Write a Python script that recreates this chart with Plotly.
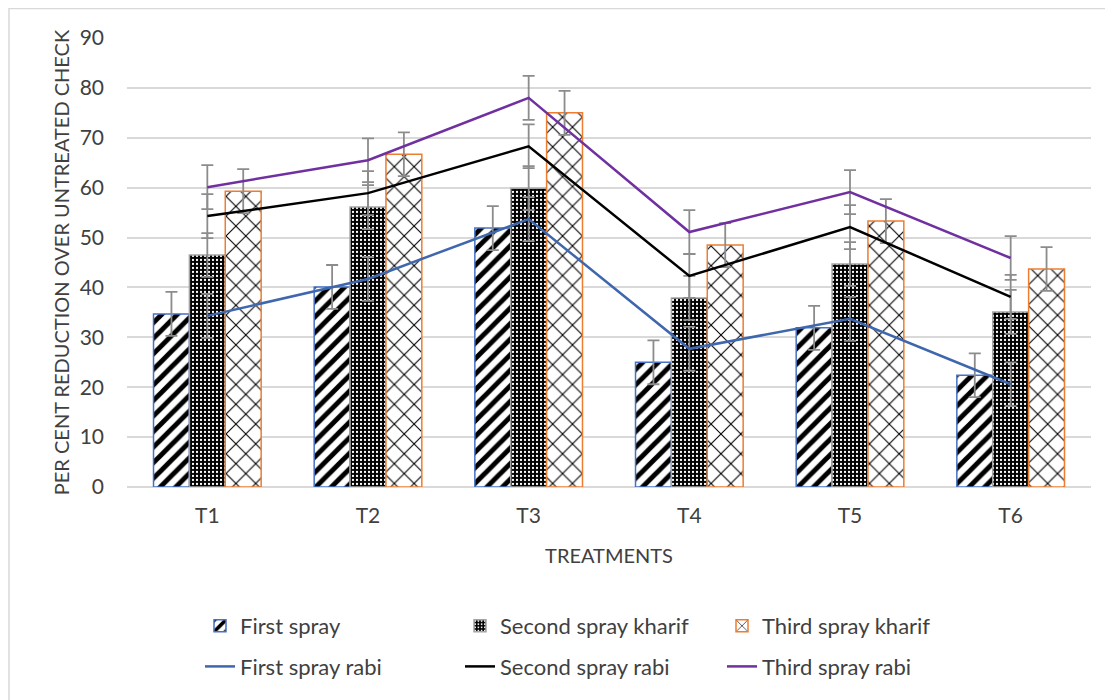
import plotly.graph_objects as go

treatments = ["T1", "T2", "T3", "T4", "T5", "T6"]
first_spray = [34.7, 40.1, 51.9, 25.0, 31.9, 22.4]
second_spray_kharif = [46.5, 56.1, 59.9, 37.9, 44.7, 35.1]
third_spray_kharif = [59.3, 66.7, 75.0, 48.5, 53.3, 43.7]
first_spray_rabi = [34.3, 41.7, 53.7, 27.7, 33.7, 20.6]
second_spray_rabi = [54.3, 58.9, 68.3, 42.3, 52.1, 38.1]
third_spray_rabi = [60.1, 65.5, 78.0, 51.1, 59.1, 45.9]
err_first = [4.4, 4.4, 4.4, 4.4, 4.4, 4.4]
err_second = [4.4, 4.4, 4.4, 4.4, 4.4, 4.4]
err_third = [4.4, 4.4, 4.4, 4.4, 4.4, 4.4]
err_first_rabi = [4.4, 4.4, 4.4, 4.4, 4.4, 4.4]
err_second_rabi = [4.4, 4.4, 4.4, 4.4, 4.4, 4.4]
err_third_rabi = [4.4, 4.4, 4.4, 4.4, 4.4, 4.4]

FONT = "Lato"
GREY = "#8C8C8C"
TXT = "#404040"

L, R, T, B = 119, 30, 30, 221
PW = 1113 - L - R
PH = 700 - T - B

def eb(vals):
    return dict(type="data", array=vals, visible=True, color=GREY, thickness=1.8, width=6)

fig = go.Figure()
fig.add_trace(go.Bar(
    x=treatments, y=first_spray, name="First spray", error_y=eb(err_first),
    marker=dict(color="white", line=dict(color="#4472C4", width=1.5),
                pattern=dict(shape="/", fgcolor="black", bgcolor="white", fgopacity=1,
                             size=11, solidity=0.45)),
    legend="legend", legendgroup="a"))
fig.add_trace(go.Bar(
    x=treatments, y=second_spray_kharif, name="Second spray kharif", error_y=eb(err_second),
    marker=dict(color="black", line=dict(color="#A5A5A5", width=1.5),
                pattern=dict(shape=".", fgcolor="white", bgcolor="black", fgopacity=1,
                             size=4, solidity=0.25)),
    legend="legend2", legendgroup="b"))
fig.add_trace(go.Bar(
    x=treatments, y=third_spray_kharif, name="Third spray kharif", error_y=eb(err_third),
    marker=dict(color="white", line=dict(color="#ED7D31", width=1.5),
                pattern=dict(shape="x", fgcolor="black", bgcolor="white", fgopacity=1,
                             size=14, solidity=0.15)),
    legend="legend3", legendgroup="c"))
fig.add_trace(go.Scatter(
    x=treatments, y=first_spray_rabi, name="First spray rabi", mode="lines",
    line=dict(color="#3F67AE", width=2.5), error_y=eb(err_first_rabi),
    legend="legend", legendgroup="d"))
fig.add_trace(go.Scatter(
    x=treatments, y=second_spray_rabi, name="Second spray rabi", mode="lines",
    line=dict(color="black", width=2.5), error_y=eb(err_second_rabi),
    legend="legend2", legendgroup="e"))
fig.add_trace(go.Scatter(
    x=treatments, y=third_spray_rabi, name="Third spray rabi", mode="lines",
    line=dict(color="#7030A0", width=2.5), error_y=eb(err_third_rabi),
    legend="legend3", legendgroup="f"))

def px_x(px):
    return (px - L) / PW

def px_y(py):
    return (700 - B - py) / PH

leg_common = dict(orientation="v", yanchor="top", xanchor="left", y=px_y(597),
                  font=dict(family=FONT, size=22, color=TXT),
                  tracegroupgap=9, bgcolor="rgba(0,0,0,0)", traceorder="grouped")

fig.update_layout(
    width=1113, height=700,
    margin=dict(l=L, r=R, t=T, b=B, autoexpand=False),
    paper_bgcolor="white", plot_bgcolor="white",
    barmode="group", bargap=0.33, bargroupgap=0.0,
    font=dict(family=FONT, size=21, color=TXT),
    xaxis=dict(title=dict(text="TREATMENTS", font=dict(size=20), standoff=22),
               tickfont=dict(size=21), showline=False, ticks="", automargin=False,
               ticklabelstandoff=14),
    yaxis=dict(title=dict(text="PER CENT REDUCTION OVER UNTREATED CHECK", font=dict(size=20), standoff=4),
               range=[0, 90], dtick=10, tickfont=dict(size=21), automargin=False,
               ticklabelstandoff=22,
               gridcolor="#D9D9D9", gridwidth=1.5, zeroline=True, zerolinecolor="#D9D9D9",
               zerolinewidth=1.5, ticks=""),
    legend=dict(x=px_x(192), **leg_common),
    legend2=dict(x=px_x(452), **leg_common),
    legend3=dict(x=px_x(714), **leg_common),
    shapes=[dict(type="rect", xref="paper", yref="paper",
                 x0=px_x(1), x1=px_x(1140), y0=px_y(740), y1=px_y(0.5),
                 line=dict(color="#D9D9D9", width=1.5), layer="below")],
)

fig.write_html("out.html")
